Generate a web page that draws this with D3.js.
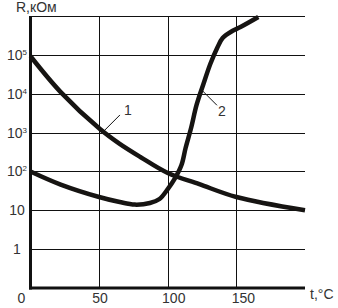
<!DOCTYPE html>
<html>
<head>
<meta charset="utf-8">
<script src="https://cdn.jsdelivr.net/npm/d3@7"></script>
<style>
  html, body { margin: 0; padding: 0; background: #fff; }
  svg text { font-family: "Liberation Sans", Arial, sans-serif; fill: #333; }
</style>
</head>
<body>
<div id="chart"></div>
<script>
// Temperature, degrees C, and resistance, kOhm
const curve1Temp = [0, 22, 50.6, 65, 80, 100, 123, 150, 200];
const curve1R = [92000, 11000, 1230, 510, 235, 91, 47, 22, 10];

const curve2Temp = [0, 22, 50, 65, 76, 87, 94, 100, 105, 110, 113, 117, 121, 126, 131, 136, 140, 147, 153, 166];
const curve2R = [100, 46, 22, 16.3, 14, 15.4, 19.5, 35, 64, 146, 400, 1310, 5130, 17800, 58000, 150000, 272000, 411000, 520000, 940000];

const tempTicks = [50, 100, 150];
const tempLabelShift = [1, 6, 7];
const rGrid = [1, 10, 100, 1e3, 1e4, 1e5, 1e6];
const rTickValues = [1, 10, 100, 1e3, 1e4, 1e5];
const rTickBase = ["1", "10", "10", "10", "10", "10"];
const rTickExp = ["", "", "2", "3", "4", "5"];

// curve labels: anchor on the curve
const labelNames = ["1", "2"];
const labelAnchorTemp = [53.5, 124.2];
const labelAnchorR = [1100, 13000];

const width = 338, height = 308;

const svg = d3.select("#chart").append("svg")
    .attr("width", width)
    .attr("height", height);

const x = d3.scaleLinear().domain([0, 200]).range([30.5, 305]);
const y = d3.scaleLog().domain([0.1, 1e6]).range([288, 16]);

// grid
svg.append("g").selectAll("line")
    .data(rGrid)
    .join("line")
    .attr("x1", x(0))
    .attr("x2", x(200))
    .attr("y1", d => Math.round(y(d)) + 0.5)
    .attr("y2", d => Math.round(y(d)) + 0.5)
    .attr("stroke", "#111")
    .attr("stroke-width", 1);

svg.append("g").selectAll("line")
    .data(tempTicks)
    .join("line")
    .attr("x1", d => Math.round(x(d)) + 0.5)
    .attr("x2", d => Math.round(x(d)) + 0.5)
    .attr("y1", y(1e6))
    .attr("y2", y(0.1))
    .attr("stroke", "#111")
    .attr("stroke-width", 1);

// axes
svg.append("line")
    .attr("x1", x(0)).attr("x2", x(0))
    .attr("y1", y(1e6)).attr("y2", y(0.1) + 1.5)
    .attr("stroke", "#111").attr("stroke-width", 3);
svg.append("line")
    .attr("x1", x(0) - 1.5).attr("x2", x(200))
    .attr("y1", y(0.1)).attr("y2", y(0.1))
    .attr("stroke", "#111").attr("stroke-width", 3);

// curves
const line = d3.line()
    .x(d => x(d[0]))
    .y(d => y(d[1]))
    .curve(d3.curveCatmullRom.alpha(0.5));

svg.append("path")
    .attr("d", line(d3.zip(curve1Temp, curve1R)))
    .attr("fill", "none")
    .attr("stroke", "#161412")
    .attr("stroke-width", 4.5);

svg.append("path")
    .attr("d", line(d3.zip(curve2Temp, curve2R)))
    .attr("fill", "none")
    .attr("stroke", "#161412")
    .attr("stroke-width", 4.5);

// leaders and curve numbers
labelNames.forEach((name, i) => {
    const ax = x(labelAnchorTemp[i]), ay = y(labelAnchorR[i]);
    const dir = i === 0 ? 1 : -1;
    svg.append("line")
        .attr("x1", ax).attr("y1", ay)
        .attr("x2", ax + 16).attr("y2", ay - 16 * dir)
        .attr("stroke", "#111").attr("stroke-width", 1);
    svg.append("text")
        .attr("x", ax + (i === 0 ? 24 : 21))
        .attr("y", ay + (i === 0 ? -15.5 : 27))
        .attr("text-anchor", "middle")
        .attr("font-size", 14)
        .text(name);
});

// y tick labels
const yLabels = svg.append("g").selectAll("text")
    .data(rTickValues)
    .join("text")
    .attr("x", 17)
    .attr("y", d => y(d) + 5)
    .attr("text-anchor", "middle")
    .attr("font-size", 14);
yLabels.append("tspan").text((d, i) => rTickBase[i]);
yLabels.append("tspan")
    .attr("font-size", 8)
    .attr("dy", -5)
    .text((d, i) => rTickExp[i]);

// x tick labels
svg.append("g").selectAll("text")
    .data(tempTicks)
    .join("text")
    .attr("x", (d, i) => x(d) + tempLabelShift[i])
    .attr("y", 303)
    .attr("text-anchor", "middle")
    .attr("font-size", 14)
    .text(d => d);

svg.append("text")
    .attr("x", 21.5).attr("y", 303)
    .attr("text-anchor", "middle")
    .attr("font-size", 14)
    .text("0");

svg.append("text")
    .attr("x", 310).attr("y", 299)
    .attr("font-size", 14)
    .text("t,°C");

svg.append("text")
    .attr("x", 16).attr("y", 12)
    .attr("font-size", 14)
    .text("R,кОм");
</script>
</body>
</html>
